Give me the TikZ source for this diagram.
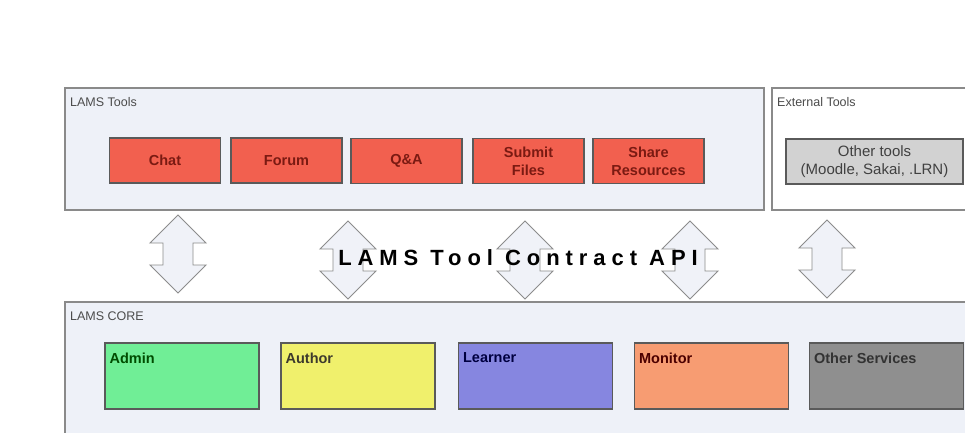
\documentclass[tikz,border=0pt]{standalone}
\usepackage{fontspec}
\setmainfont{Liberation Sans}
\newfontfamily\apifont[LetterSpace=27]{Liberation Sans}
\usetikzlibrary{calc}
\definecolor{panelfill}{HTML}{EEF1F8}
\definecolor{panelline}{HTML}{8A8A8A}
\definecolor{toolfill}{HTML}{F2604F}
\definecolor{tooltext}{HTML}{7A1A12}
\definecolor{boxline}{HTML}{5A5A5A}
\definecolor{otherfill}{HTML}{D2D2D2}
\definecolor{adminfill}{HTML}{70EE96}
\definecolor{authorfill}{HTML}{F0F06C}
\definecolor{learnerfill}{HTML}{8686E0}
\definecolor{monitorfill}{HTML}{F79C72}
\definecolor{servfill}{HTML}{8F8F8F}
\definecolor{arrowfill}{HTML}{F0F2F8}
\definecolor{arrowline}{HTML}{8C8C8C}
\tikzset{
  panel/.style={draw=panelline, line width=1.2pt, fill=panelfill},
  paneltitle/.style={anchor=west, inner sep=0pt, font=\fontsize{12.5}{14}\selectfont, text=black!70},
  toolbox/.style={draw=boxline, line width=1.2pt, fill=toolfill, minimum width=111pt, minimum height=45pt,
    font=\fontsize{14.5}{18}\selectfont\bfseries, text=tooltext, align=center, inner sep=0pt},
  corebox/.style={draw=boxline, line width=1.2pt, minimum width=154pt, minimum height=66pt, inner sep=0pt},
  corelabel/.style={anchor=north west, inner sep=0pt, font=\fontsize{14.5}{16}\selectfont\bfseries},
  dblarrow/.pic={
    \draw[draw=arrowline, fill=arrowfill, line width=0.9pt, line join=miter]
      (0,-39) -- (28,-11) -- (15,-11) -- (15,11) -- (28,11) -- (0,39)
      -- (-28,11) -- (-15,11) -- (-15,-11) -- (-28,-11) -- cycle;
  }
}
\begin{document}
\begin{tikzpicture}[x=1pt, y=-1pt]
\useasboundingbox (0,0) rectangle (965,433);
\clip (0,0) rectangle (965,433);
\fill[white] (0,0) rectangle (965,433);

% panels
\draw[panel] (65,88) rectangle (764,210);
\node[paneltitle] (toolstitle) at (70,102) {LAMS Tools};
\draw[draw=panelline, line width=1.2pt, fill=white] (772,88) rectangle (975,210);
\node[paneltitle] (exttitle) at (777,102) {External Tools};
\draw[panel] (65,302) rectangle (975,445);
\node[paneltitle] (coretitle) at (70,316) {LAMS CORE};

% tool boxes
\node[toolbox] (chat) at (165,160.5) {Chat};
\node[toolbox] (forum) at (286.5,160.5) {Forum};
\node[toolbox] (qa) at (406.5,161) {Q\&A};
\node[toolbox] (submit) at (528.5,161) {Submit\\Files};
\node[toolbox] (share) at (648.5,161) {Share\\Resources};
\node[draw=boxline, line width=1.2pt, fill=otherfill, minimum width=177pt, minimum height=45pt,
  font=\fontsize{15}{18}\selectfont, text=black!75, align=center, inner sep=0pt] (other) at (874.5,161.5)
  {Other tools\\(Moodle, Sakai, .LRN)};

% arrows
\pic at (178,254) {dblarrow};
\pic at (348,260) {dblarrow};
\pic at (525,260) {dblarrow};
\pic at (690,260) {dblarrow};
\pic at (827,259) {dblarrow};

\node[inner sep=0pt, font=\apifont\fontsize{22}{24}\selectfont\bfseries] (api) at (518,258) {LAMS Tool Contract API};

% core boxes
\node[corebox, fill=adminfill] (admin) at (182,376) {};
\node[corelabel, text=green!30!black] (adminl) at ($(admin.north west)+(5,10)$) {Admin};
\node[corebox, fill=authorfill] (author) at (358,376) {};
\node[corelabel, text=black!75!olive] (authorl) at ($(author.north west)+(5,10)$) {Author};
\node[corebox, fill=learnerfill] (learner) at (535.5,376) {};
\node[corelabel, text=blue!25!black] (learnerl) at ($(learner.north west)+(5,10)$) {Learner};
\node[corebox, fill=monitorfill] (monitor) at (711.5,376) {};
\node[corelabel, text=red!30!black] (monitorl) at ($(monitor.north west)+(5,10)$) {Monitor};
\node[corebox, fill=servfill] (serv) at (886.5,376) {};
\node[corelabel, text=black!80] (servl) at ($(serv.north west)+(5,10)$) {Other Services};
\end{tikzpicture}
\end{document}
